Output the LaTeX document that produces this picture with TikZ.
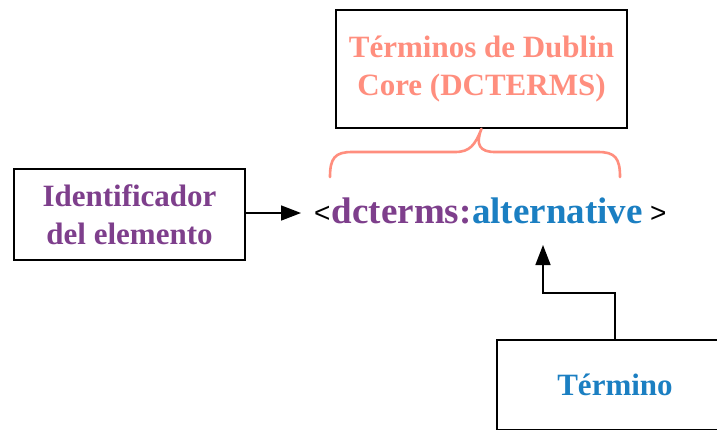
\documentclass[tikz,border=0pt]{standalone}
\usepackage{fontspec}
\setmainfont{Liberation Serif}
\newfontfamily\symfont{Liberation Sans}
\usetikzlibrary{arrows.meta,calc}
\definecolor{salmon}{HTML}{FF8E7E}
\definecolor{plum}{HTML}{7E3F8C}
\definecolor{termblue}{HTML}{1B7FC2}
\begin{document}
\begin{tikzpicture}[x=1pt,y=-1pt,
  box/.style={draw=black,line width=1.6pt,inner sep=0pt,align=center,font=\bfseries\fontsize{31}{38}\selectfont},
  conn/.style={line width=1.6pt,-{Triangle[length=20pt,width=15pt]}}]
\clip (0,0) rectangle (717,429);
\fill[white] (0,0) rectangle (717,429);
\node[box,text=salmon,minimum width=291pt,minimum height=118pt] (dc) at (481.5,69) {Términos de Dublin\\Core (DCTERMS)};
\node[box,text=plum,minimum width=231pt,minimum height=91pt] (id) at (129.5,214.5) {Identificador\\del elemento};
\node[box,text=termblue,minimum width=236pt,minimum height=90pt] (tm) at (615,385) {Término};
\node[inner sep=0pt,anchor=base west,font=\symfont\fontsize{28}{28}\selectfont] (lt) at (314,222) {<};
\node[inner sep=0pt,anchor=base west,font=\bfseries\fontsize{37}{37}\selectfont,text=plum] (pre) at ($(lt.base east)+(1,1)$) {dcterms:};
\node[inner sep=0pt,anchor=base west,font=\bfseries\fontsize{37}{37}\selectfont,text=termblue] (alt) at (pre.base east) {alternative};
\node[inner sep=0pt,anchor=base west,font=\symfont\fontsize{28}{28}\selectfont] (gt) at ($(alt.base east)+(7,-1)$) {>};
\coordinate (idtip) at (301,213);
\coordinate (alttip) at (543,245);
\draw[conn] (id.east |- idtip) -- (idtip);
\draw[conn] (tm.north) |- (543,293) -- (alttip);
\draw[salmon,line width=2.6pt,line cap=round] (330,177) .. controls (330,158) and (335,152) .. (352,152) -- (455,152) .. controls (470,152) and (475,145) .. (dc.south)
  (dc.south) .. controls (475,145) and (480,152) .. (495,152) -- (598,152) .. controls (615,152) and (620,158) .. (620,177);
\end{tikzpicture}
\end{document}
